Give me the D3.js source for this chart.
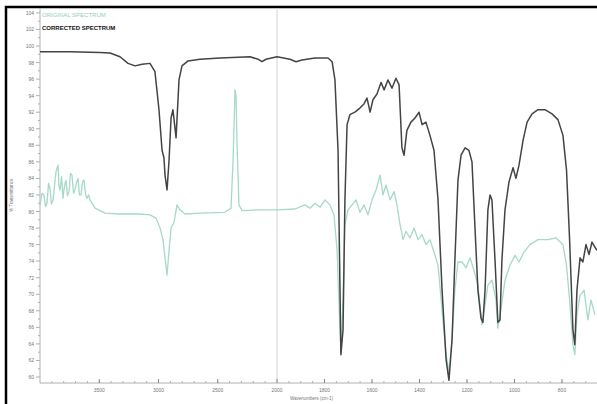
<!DOCTYPE html>
<html>
<head>
<meta charset="utf-8">
<script src="https://cdn.jsdelivr.net/npm/d3@7"></script>
<style>
  body { margin: 0; background: #fff; }
  svg { display: block; font-family: "Liberation Sans", Arial, sans-serif; }
</style>
</head>
<body>
<div id="chart"></div>
<script>
// --- data: wavenumber (cm-1) and % transmittance ---
const correctedWn = [4000,3747,3494,3409,3325,3257,3198,3139,3072,3030,2996,2970,2954,2945,2928,2911,2894,2878,2861,2852,2844,2827,2802,2751,2650,2481,2228,2160,2127,2093,2000,1945,1920,1895,1840,1785,1768,1756,1743,1731,1722,1714,1705,1693,1672,1651,1634,1621,1608,1596,1579,1562,1549,1533,1516,1499,1486,1474,1465,1453,1436,1419,1402,1389,1373,1356,1339,1322,1305,1288,1276,1263,1251,1238,1225,1208,1192,1179,1166,1154,1141,1133,1124,1112,1103,1095,1082,1070,1061,1053,1040,1023,1006,994,981,964,947,926,901,872,842,817,796,781,768,754,746,737,724,712,699,686,674,653];
const correctedT = [99.3,99.3,99.2,99.15,98.7,97.9,97.6,97.8,97.9,96.9,92.3,87.4,86.5,84.4,82.6,86.2,91.3,92.3,90.1,88.9,91.1,95.9,97.6,98.2,98.4,98.55,98.7,98.4,98.1,98.4,98.7,98.4,98.1,98.3,98.55,98.55,98.1,95.9,87.4,62.7,65.7,81.4,90.5,91.7,92.0,92.5,93.0,93.7,92.0,93.5,94.2,95.6,94.7,95.9,94.9,96.1,95.3,87.7,86.8,89.8,90.8,91.3,92.0,90.5,90.8,89.2,87.4,81.4,70.5,62.1,59.6,64.5,74.1,83.8,86.8,87.7,87.4,86.0,77.8,70.5,67.1,66.6,70.5,80.2,82.0,81.4,74.1,66.6,66.9,74.1,80.2,83.6,85.3,84.0,85.6,88.6,90.8,91.8,92.3,92.3,91.8,91.1,89.2,85.0,76.6,65.7,63.9,70.5,74.4,73.9,76.0,74.8,76.3,75.3];

const originalWn = [4000,3983,3966,3953,3941,3928,3916,3903,3890,3878,3865,3848,3840,3831,3818,3806,3794,3781,3768,3755,3743,3730,3717,3705,3692,3679,3667,3654,3641,3629,3616,3603,3590,3578,3536,3451,3325,3156,3072,3021,2987,2962,2945,2928,2911,2894,2869,2844,2819,2776,2650,2439,2388,2371,2354,2346,2338,2321,2295,2143,2000,1924,1882,1861,1840,1819,1798,1777,1760,1747,1735,1731,1722,1714,1701,1684,1667,1651,1634,1617,1600,1583,1566,1554,1541,1524,1507,1495,1482,1469,1457,1440,1423,1406,1389,1373,1356,1339,1322,1305,1288,1276,1263,1251,1238,1221,1204,1187,1171,1154,1137,1124,1112,1095,1078,1070,1057,1040,1019,998,981,960,935,901,859,825,796,781,768,754,746,737,724,707,691,678,661];
const originalT = [80.8,82.2,82.0,80.6,81.0,83.4,82.8,80.9,81.4,83.0,84.8,85.6,83.1,82.6,84.2,81.6,83.0,83.8,81.9,82.4,84.6,84.4,82.2,82.6,83.5,84.0,82.0,82.0,83.6,83.8,82.1,81.6,82.0,81.4,80.4,79.8,79.7,79.7,79.6,79.2,78.0,76.6,74.4,72.3,75.3,78.0,78.7,80.8,80.2,79.7,79.8,79.9,80.4,86.2,94.7,94.1,88.6,80.8,80.1,80.2,80.2,80.3,80.8,80.4,81.0,80.5,81.4,80.8,79.6,75.3,65.7,63.5,69.3,78.4,80.2,80.8,81.4,79.9,80.8,79.6,81.4,82.6,84.4,82.0,83.2,81.4,82.4,80.8,78.4,76.6,77.6,76.8,78.0,76.6,77.2,76.0,76.6,75.1,73.5,68.1,62.7,60.6,64.5,70.5,73.9,73.9,73.2,74.4,72.9,71.1,66.3,68.7,71.1,71.7,69.3,65.9,68.1,71.7,73.5,74.7,73.9,75.1,76.0,76.6,76.6,76.8,76.0,73.5,69.3,63.9,62.7,67.5,69.9,70.5,66.9,69.3,67.5];

const xTicks = [3500, 3000, 2500, 2000, 1800, 1600, 1400, 1200, 1000, 800];
const yTicks = d3.range(60, 105, 2);
const legendLabels = ['ORIGINAL SPECTRUM', 'CORRECTED SPECTRUM'];

const W = 597, H = 404;
const svg = d3.select('#chart').append('svg').attr('width', W).attr('height', H);

// split scale at 2000 cm-1, as on the instrument plot
const x = d3.scaleLinear().domain([4000, 2000, 600]).range([40, 277, 609.5]);
const y = d3.scaleLinear().domain([60, 100]).range([377, 46]);
const yBottom = 383, yTop = 8;

// outer frame
svg.append('rect').attr('x', 6).attr('y', 7).attr('width', 620).attr('height', 420)
    .attr('fill', 'none').attr('stroke', '#000').attr('stroke-width', 2.5);

// split line
svg.append('line').attr('x1', x(2000)).attr('x2', x(2000)).attr('y1', yTop).attr('y2', yBottom)
    .attr('stroke', '#d4d4d4').attr('stroke-width', 1);

// axes
const axisColor = '#b0b0b0';
const g = svg.append('g');
g.append('line').attr('x1', 40).attr('x2', 40).attr('y1', yTop).attr('y2', yBottom).attr('stroke', axisColor);
g.append('line').attr('x1', 40).attr('x2', W).attr('y1', yBottom).attr('y2', yBottom).attr('stroke', axisColor);

// y minor + major ticks
g.selectAll('.ymin').data(d3.range(60, 105, 1)).enter().append('line')
    .attr('x1', 40).attr('x2', d => d % 2 === 0 ? 36 : 38)
    .attr('y1', d => y(d)).attr('y2', d => y(d)).attr('stroke', axisColor);
g.selectAll('.ylab').data(yTicks).enter().append('text')
    .attr('x', 34).attr('y', d => y(d) + 2).attr('text-anchor', 'end')
    .attr('font-size', 5).attr('fill', '#777').text(d => d);

// x minor ticks
const xMinor = d3.range(3900, 2000, -100).concat(d3.range(1950, 600, -50));
g.selectAll('.xmin').data(xMinor).enter().append('line')
    .attr('x1', d => x(d)).attr('x2', d => x(d))
    .attr('y1', yBottom).attr('y2', yBottom - 2).attr('stroke', axisColor);
g.selectAll('.xmaj').data(xTicks).enter().append('line')
    .attr('x1', d => x(d)).attr('x2', d => x(d))
    .attr('y1', yBottom).attr('y2', yBottom - 4).attr('stroke', '#888');
g.selectAll('.xlab').data(xTicks).enter().append('text')
    .attr('x', d => x(d)).attr('y', yBottom + 9).attr('text-anchor', 'middle')
    .attr('font-size', 5).attr('fill', '#777').text(d => d);

// axis titles
svg.append('text').attr('x', 290).attr('y', 400).attr('font-size', 4.5).attr('fill', '#777')
    .text('Wavenumbers (cm-1)');
svg.append('text').attr('transform', 'translate(13,212) rotate(-90)').attr('font-size', 4.5)
    .attr('fill', '#777').text('% Transmittance');

// spectra
const line = d3.line().x(d => x(d[0])).y(d => y(d[1]));
const plot = svg.append('g').attr('stroke-linejoin', 'round');
plot.append('path').datum(d3.zip(originalWn, originalT))
    .attr('d', line).attr('fill', 'none').attr('stroke', '#a6d9c6').attr('stroke-width', 1.3);
plot.append('path').datum(d3.zip(correctedWn, correctedT))
    .attr('d', line).attr('fill', 'none').attr('stroke', '#444').attr('stroke-width', 1.5);

// legend
const legColors = ['#8fd0b8', '#111'];
svg.selectAll('.leg').data(legendLabels).enter().append('text')
    .attr('x', 42).attr('y', (d, i) => 17 + i * 13)
    .attr('font-size', 6).attr('font-weight', (d, i) => i ? 'bold' : 'normal')
    .attr('fill', (d, i) => legColors[i]).text(d => d);
</script>
</body>
</html>
